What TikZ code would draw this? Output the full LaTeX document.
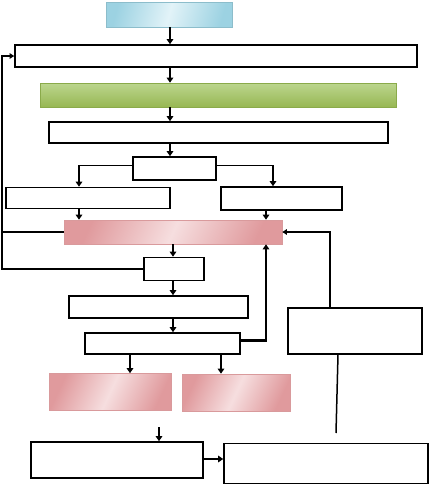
\documentclass[tikz,border=0pt]{standalone}
\usetikzlibrary{arrows.meta,calc}
\definecolor{blueD}{HTML}{9CD2E2}
\definecolor{blueL}{HTML}{E2F3F8}
\definecolor{greenT}{HTML}{BCD68E}
\definecolor{greenB}{HTML}{97B753}
\definecolor{greenE}{HTML}{8AAA4A}
\definecolor{pinkD}{HTML}{E09A9D}
\definecolor{pinkL}{HTML}{F6DEDF}
\definecolor{pinkE}{HTML}{D99A9C}
\begin{document}
\begin{tikzpicture}[x=1pt,y=-1pt,
  plain/.style={draw=black,line width=1.6pt,fill=white,inner sep=0pt},
  bluebox/.style={draw=blueD!90!black,line width=0.6pt,inner sep=0pt,left color=blueD,right color=blueD,middle color=blueL,shading angle=75},
  greenbox/.style={draw=greenE,line width=0.6pt,inner sep=0pt,top color=greenT,bottom color=greenB},
  pinkbox/.style={draw=pinkE,line width=0.6pt,inner sep=0pt,left color=pinkD,right color=pinkD,middle color=pinkL,shading angle=65},
  arr/.style={line width=2.1pt,-{Triangle[length=5pt,width=6.5pt]}},
  thinarr/.style={line width=1.1pt,-{Triangle[length=4.5pt,width=5.5pt]}},
  thinline/.style={line width=1.1pt},
  sz/.style 2 args={minimum width=#1pt,minimum height=#2pt}]
\useasboundingbox (0,0) rectangle (429,485);
\fill[white] (0,0) rectangle (429,485);
% nodes
\node[bluebox,sz={126}{25}] (blue) at (169,14.5) {};
\node[plain,sz={402}{22}] (A) at (216,56) {};
\node[greenbox,sz={356}{24}] (green) at (218,95) {};
\node[plain,sz={339}{21}] (B) at (218.5,132.5) {};
\node[plain,sz={83}{23}] (C) at (174.5,168.5) {};
\node[plain,sz={164}{21}] (D) at (88,198) {};
\node[plain,sz={121}{23}] (E) at (281.5,198.5) {};
\node[pinkbox,sz={218}{24}] (P) at (173,232) {};
\node[plain,sz={60}{23}] (F) at (174,269) {};
\node[plain,sz={179}{22}] (G) at (158.5,307) {};
\node[plain,sz={155}{21}] (H) at (162.5,343.5) {};
\node[plain,sz={134}{46}] (I) at (355,331) {};
\node[pinkbox,sz={122}{37}] (P1) at (110,392) {};
\node[pinkbox,sz={108}{37}] (P2) at (236,392.5) {};
\node[plain,sz={172}{36}] (J) at (117,460) {};
\node[plain,sz={204}{40}] (K) at (326,463.5) {};
% helper coordinates
\coordinate (xm) at (170,0);
\coordinate (xd) at (79,0);
\coordinate (xe) at (273,0);
\coordinate (xe2) at (266,0);
\coordinate (xf) at (173,0);
\coordinate (lx) at (2,0);
\coordinate (ix) at (330,0);
\coordinate (x1) at (130,0);
\coordinate (x2) at (221,0);
\coordinate (jt) at (159,427);
\coordinate (ke) at (336,433);
% connectors
\draw[arr] (xm |- blue.south) -- (xm |- A.north);
\draw[arr] (xm |- A.south) -- (xm |- green.north);
\draw[arr] (xm |- green.south) -- (xm |- B.north);
\draw[arr] (xm |- B.south) -- (xm |- C.north);
\draw[arr,line width=1.5pt] ([yshift=3]C.west) -| (xd |- D.north);
\draw[arr,line width=1.5pt] ([yshift=3]C.east) -| (xe |- E.north);
\draw[arr] (xd |- D.south) -- (xd |- P.north);
\draw[arr] (xe2 |- E.south) -- (xe2 |- P.north);
\draw[arr] (xf |- P.south) -- (xf |- F.north);
\draw[arr] (xf |- F.south) -- (xf |- G.north);
\draw[arr] (xf |- G.south) -- (xf |- H.north);
\draw[arr,line width=2.4pt] ([yshift=3]H.east) -| (xe2 |- P.south);
\draw[thinarr,line width=1.8pt] (ix |- I.north) |- (P.east);
\draw[thinline] (P.west) -- (P.west -| lx);
\draw[thinarr] (F.west) -- (F.west -| lx) |- (A.west);
\draw[arr] (x1 |- H.south) -- (x1 |- P1.north);
\draw[arr] (x2 |- H.south) -- (x2 |- P2.north);
\draw[arr] (jt) -- (jt |- J.north);
\draw[arr] ([yshift=1]J.east) -- ([yshift=1]J.east -| K.west);
\draw[line width=1.5pt] ([xshift=-17]I.south) -- (ke);
\end{tikzpicture}
\end{document}
